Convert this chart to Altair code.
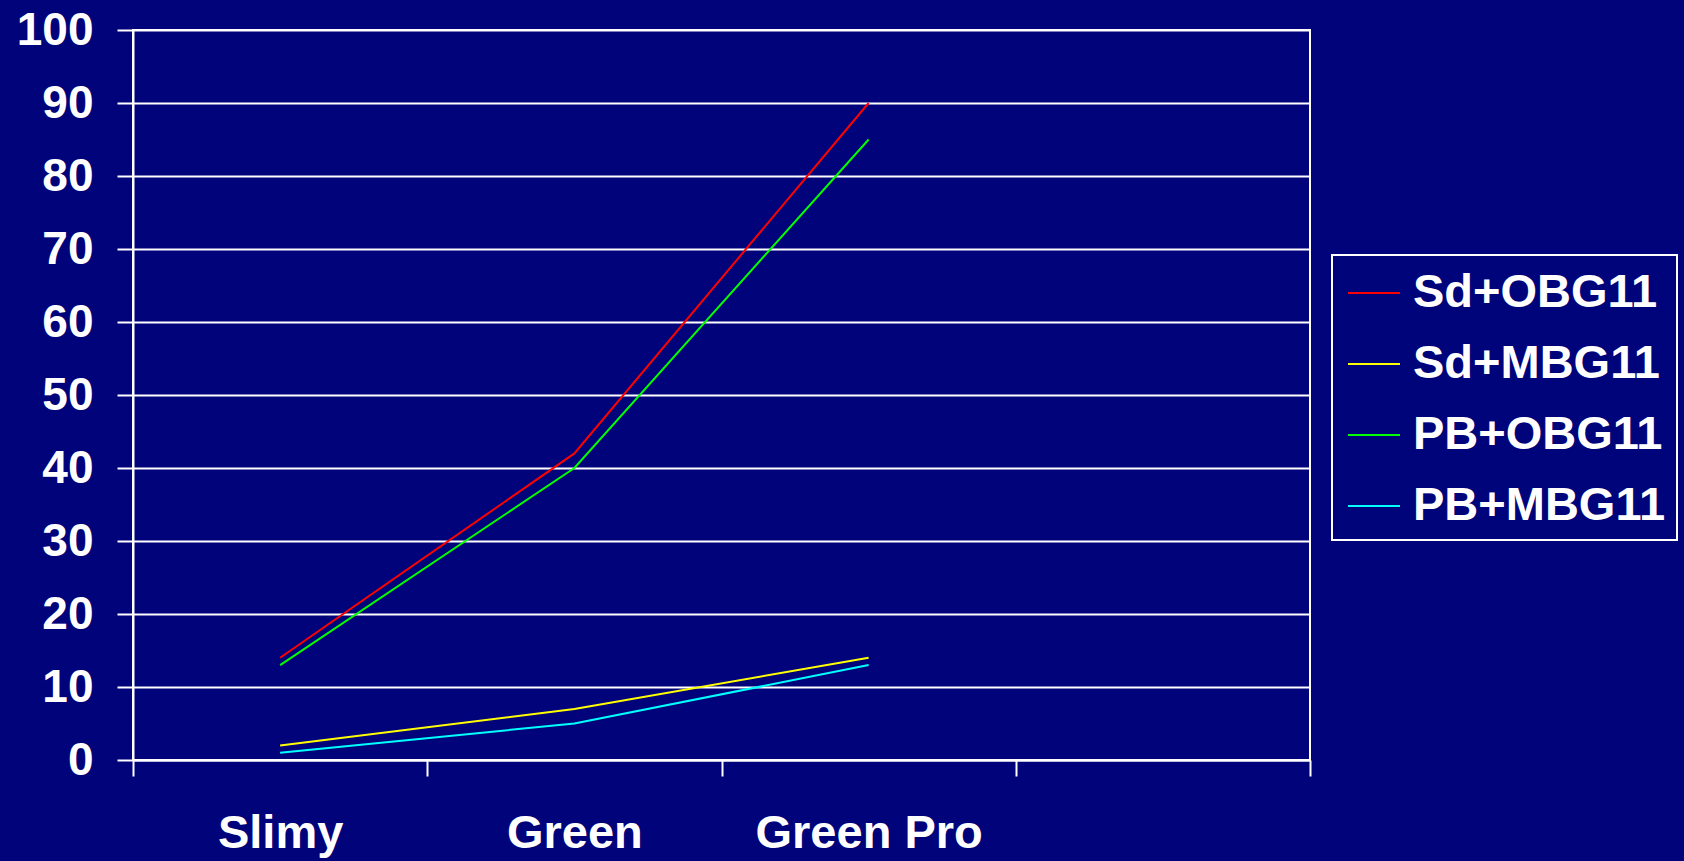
import altair as alt
import pandas as pd

categories = ["Slimy", "Green", "Green Pro"]
axis_domain = ["Slimy", "Green", "Green Pro", " "]
series_names = ["Sd+OBG11", "Sd+MBG11", "PB+OBG11", "PB+MBG11"]
sd_obg11 = [14, 42, 90]
sd_mbg11 = [2, 7, 14]
pb_obg11 = [13, 40, 85]
pb_mbg11 = [1, 5, 13]
series_colors = ["#ff0000", "#ffff00", "#00ff00", "#00ffff"]

rows = []
for name, vals in zip(series_names, [sd_obg11, sd_mbg11, pb_obg11, pb_mbg11]):
    for c, v in zip(categories, vals):
        rows.append({"cat": c, "series": name, "value": v})
df = pd.DataFrame(rows)

FONT = "Liberation Sans"

chart = alt.Chart(df).mark_line(strokeWidth=2).encode(
    x=alt.X("cat:N",
            scale=alt.Scale(domain=axis_domain, paddingInner=0, paddingOuter=0),
            axis=alt.Axis(title=None, labelAngle=0, tickBand="extent", grid=False,
                          tickSize=16, tickWidth=2, tickColor="white",
                          domainColor="white", domainWidth=2, labelLimit=0,
                          labelFont=FONT, labelFontSize=47, labelFontWeight="bold",
                          labelColor="white", labelPadding=34)),
    y=alt.Y("value:Q",
            scale=alt.Scale(domain=[0, 100], nice=False),
            axis=alt.Axis(title=None, values=list(range(0, 101, 10)),
                          grid=True, gridColor="white", gridWidth=2, gridOpacity=1,
                          tickSize=16, tickWidth=2, tickColor="white",
                          domainColor="white", domainWidth=2, labelLimit=0,
                          labelFont=FONT, labelFontSize=46, labelFontWeight="bold",
                          labelColor="white", labelPadding=24)),
    color=alt.Color("series:N",
                    scale=alt.Scale(domain=series_names, range=series_colors),
                    legend=alt.Legend(title=None, orient="none", legendX=1199, legendY=225,
                                      symbolType="stroke", symbolSize=2700, symbolOffset=4,
                                      symbolStrokeWidth=2, labelFont=FONT,
                                      labelFontSize=47, labelFontWeight="bold",
                                      labelColor="white", labelOffset=12, labelLimit=0,
                                      rowPadding=21, padding=11,
                                      strokeColor="white", fillColor="#00047a")),
).properties(
    width=1177, height=730,
    autosize=alt.AutoSizeParams(type="none"),
    padding={"left": 133, "top": 30, "right": 374, "bottom": 101},
    background="#00037a",
).configure_view(stroke="white", strokeWidth=2).configure_legend(strokeWidth=2)

chart.save("out.html", embed_options={"renderer": "svg", "actions": False})
